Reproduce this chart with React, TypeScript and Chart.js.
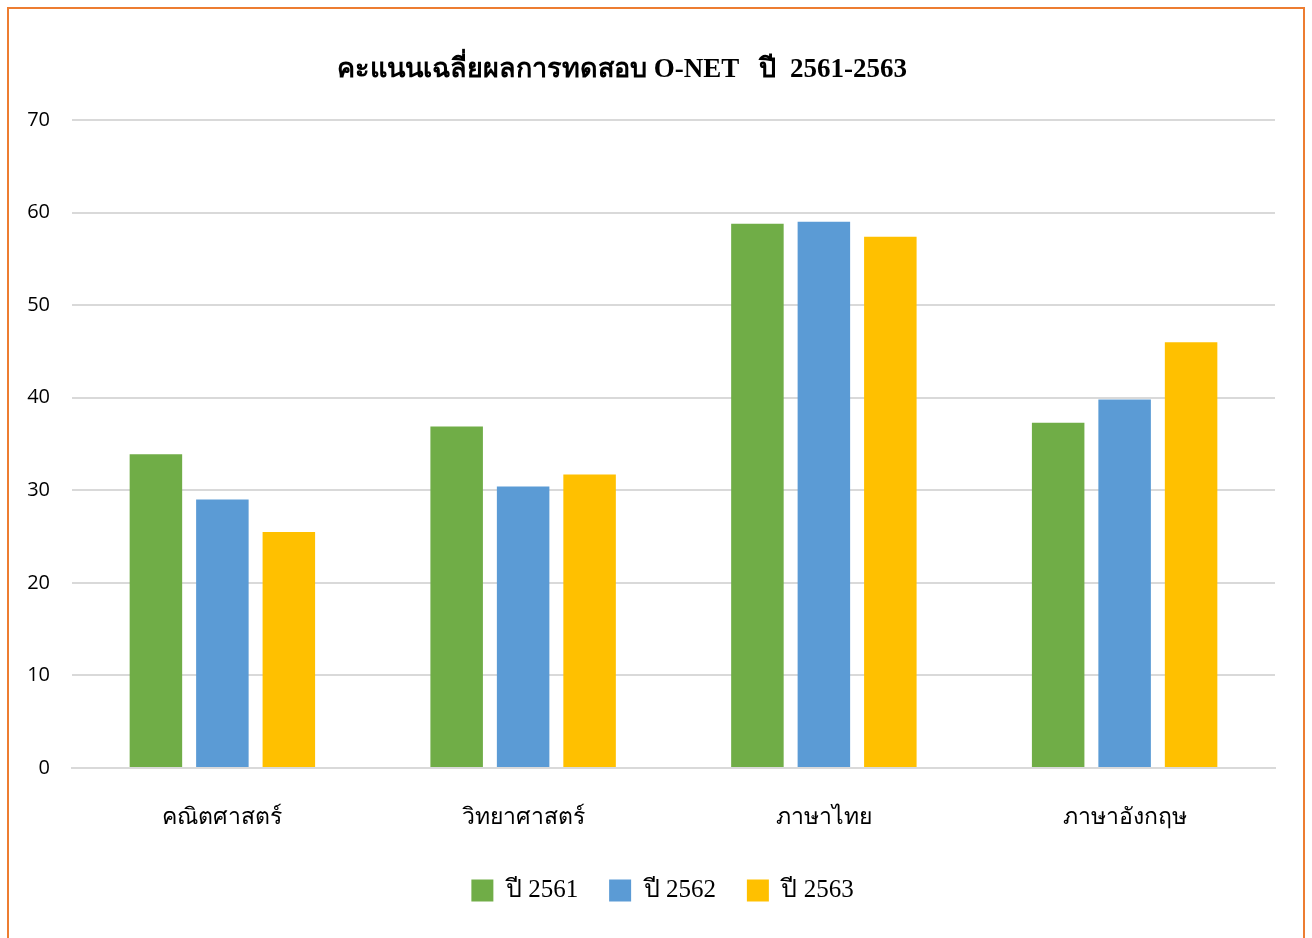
import React, { useEffect, useRef } from "react";
import { Chart, registerables } from "chart.js";

Chart.register(...registerables);

const TITLE = "คะแนนเฉลี่ยผลการทดสอบ O-NET   ปี  2561-2563";
const categories = ["คณิตศาสตร์", "วิทยาศาสตร์", "ภาษาไทย", "ภาษาอังกฤษ"];
const seriesNames = ["ปี 2561", "ปี 2562", "ปี 2563"];
const values2561 = [33.9, 36.9, 58.8, 37.3];
const values2562 = [29.0, 30.4, 59.0, 39.8];
const values2563 = [25.5, 31.7, 57.4, 46.0];
const seriesColors = ["#70AD47", "#5B9BD5", "#FFC000"];
const yTicks = [0, 10, 20, 30, 40, 50, 60, 70];

const SERIF = "'Liberation Serif', 'Times New Roman', serif";
const SANS = "'Open Sans', 'Noto Sans', sans-serif";

const titlePlugin = {
  id: "customTitle",
  afterDraw(chart: any) {
    const ctx = chart.ctx;
    ctx.save();
    ctx.font = `bold 27px ${SERIF}`;
    ctx.fillStyle = "#000000";
    ctx.textAlign = "center";
    ctx.textBaseline = "middle";
    ctx.fillText(TITLE, chart.width * 0.474, 70);
    ctx.restore();
  },
};

const legendShiftPlugin = {
  id: "legendShift",
  afterLayout(chart: any) {
    const lg = chart.legend;
    if (lg) {
      lg.left += 25;
      lg.right += 25;
    }
  },
};

export default function App() {
  const ref = useRef<HTMLCanvasElement | null>(null);

  useEffect(() => {
    if (!ref.current) return;
    const seriesValues = [values2561, values2562, values2563];
    const chart = new Chart(ref.current, {
      type: "bar",
      data: {
        labels: categories,
        datasets: seriesNames.map((name, i) => ({
          label: name,
          data: seriesValues[i],
          backgroundColor: seriesColors[i],
          borderWidth: 0,
          categoryPercentage: 0.663,
          barPercentage: 0.79,
        })),
      },
      options: {
        animation: false,
        responsive: false,
        maintainAspectRatio: false,
        layout: { padding: { top: 120, right: 37, left: 0, bottom: 25 } },
        plugins: {
          title: { display: false },
          tooltip: { enabled: false },
          legend: {
            position: "bottom",
            labels: {
              boxWidth: 22,
              boxHeight: 22,
              padding: 31,
              color: "#000000",
              font: { family: SERIF, size: 25 },
            },
          },
        },
        scales: {
          x: {
            grid: { display: false, drawTicks: false },
            border: { display: true, color: "#D9D9D9", width: 2 },
            afterFit(axis: any) {
              axis.height = 79;
            },
            ticks: {
              color: "#000000",
              font: { family: SERIF, size: 23 },
              padding: 36,
            },
          },
          y: {
            min: 0,
            max: 70,
            afterBuildTicks(axis: any) {
              axis.ticks = yTicks.map((v) => ({ value: v }));
            },
            afterFit(axis: any) {
              axis.width = 72;
            },
            grid: { color: "#D9D9D9", lineWidth: 2, drawTicks: false },
            border: { display: false },
            ticks: {
              color: "#000000",
              font: { family: SANS, size: 20 },
              padding: 22,
            },
          },
        },
      },
      plugins: [titlePlugin, legendShiftPlugin],
    });
    return () => chart.destroy();
  }, []);

  return (
    <div
      style={{
        position: "fixed",
        left: 0,
        top: 0,
        width: 1312,
        height: 938,
        background: "#ffffff",
        overflow: "hidden",
      }}
    >
      <div
        style={{
          position: "absolute",
          left: 7,
          top: 7,
          width: 1294,
          height: 960,
          border: "2px solid #ED7D31",
        }}
      />
      <canvas
        ref={ref}
        width={1312}
        height={938}
        style={{ position: "absolute", left: 0, top: 0, width: 1312, height: 938 }}
      />
    </div>
  );
}
